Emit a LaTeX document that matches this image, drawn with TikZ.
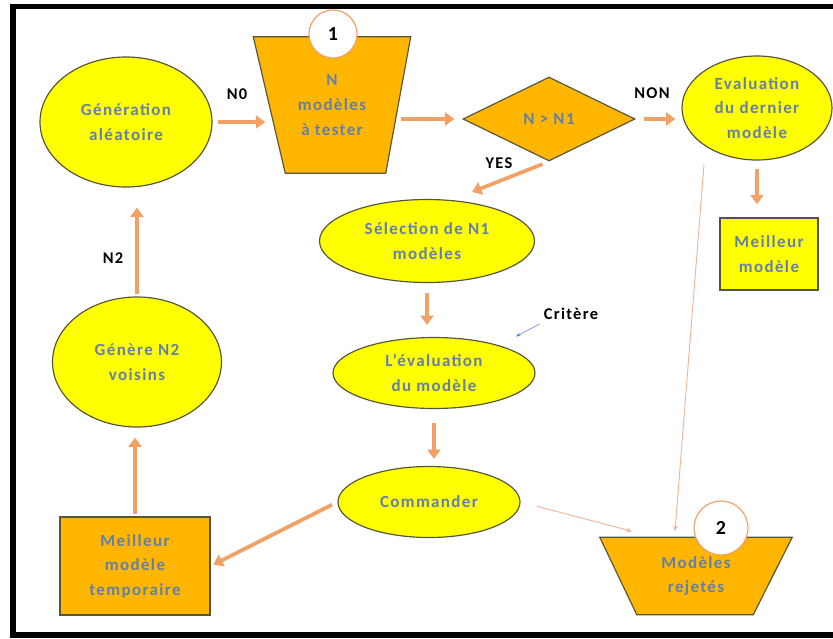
\documentclass[tikz,border=0pt]{standalone}
\usepackage{fontspec}
\newfontfamily\diagfont{Carlito}[LetterSpace=8]
\usepackage{tikz}
\usetikzlibrary{shapes.geometric, positioning, calc, arrows.meta, backgrounds}
\definecolor{jaune}{RGB}{255,255,0}
\definecolor{orangebox}{RGB}{255,182,0}
\definecolor{fleche}{RGB}{242,160,100}
\definecolor{filet}{RGB}{240,180,150}
\definecolor{texte}{RGB}{100,128,170}
\definecolor{bord}{RGB}{85,85,60}
\definecolor{bleu}{RGB}{100,130,220}
\newcommand{\pxu}{0.03cm}

\begin{document}
\begin{tikzpicture}[x=0.03cm, y=-0.03cm,
  txt/.style={font=\diagfont\bfseries\fontsize{14.5}{21}\selectfont, text=texte, align=center},
  bulle/.style={txt, ellipse, draw=bord, line width=1pt, fill=jaune, inner sep=0pt},
  boite/.style={txt, rectangle, draw=bord, line width=1.2pt, inner sep=0pt},
  fondtrap/.style={draw=bord, line width=1pt, fill=orangebox, line join=miter},
  pastille/.style={circle, draw=fleche, line width=1pt, fill=white, inner sep=0pt, minimum size=48*\pxu, font=\diagfont\bfseries\fontsize{17}{17}\selectfont},
  etiq/.style={font=\diagfont\bfseries\fontsize{14}{14}\selectfont, text=black},
  fl/.style={draw=fleche, line width=3.2pt, -{Triangle[width=11pt,length=8pt]}},
  fin/.style={draw=filet, line width=0.8pt, -{Stealth[length=5pt,width=4pt]}}]
 \useasboundingbox (0,0) rectangle (833,638);
 % cadre
 \draw[line width=4.8pt] (840,6.5) -- (13,6.5) -- (13,635) -- (840,635);

 % les formes
 \node (gen) [bulle, minimum width=172*\pxu, minimum height=130*\pxu] at (126,122) {Génération\\aléatoire};
 \node (lot) [txt, minimum width=157*\pxu, minimum height=136*\pxu] at (332,105) {N\\modèles\\à tester};
 \node (dia) [txt, diamond, draw=bord, line width=1pt, fill=orangebox, inner sep=0pt, minimum width=172*\pxu, minimum height=84*\pxu] at (549,119) {N > N1};
 \node (evalL) [bulle, minimum width=150*\pxu, minimum height=104*\pxu] at (757,108) {Evaluation\\du dernier\\modèle};
 \node (best) [boite, fill=jaune, minimum width=98*\pxu, minimum height=72*\pxu] at (769,254) {Meilleur\\modèle};
 \node (sel) [bulle, minimum width=215*\pxu, minimum height=83*\pxu] at (427,241) {Sélection de N1\\modèles};
 \node (evalM) [bulle, minimum width=202*\pxu, minimum height=71*\pxu] at (434,373) {L’évaluation\\du modèle};
 \node (cmd) [bulle, minimum width=182*\pxu, minimum height=71*\pxu] at (429,502) {Commander};
 \node (tmp) [boite, fill=orangebox, minimum width=150*\pxu, minimum height=98*\pxu] at (135,566) {Meilleur\\modèle\\temporaire};
 \node (vois) [bulle, minimum width=169*\pxu, minimum height=130*\pxu] at (137,362) {Génère N2\\voisins};
 \node (rej) [txt, minimum width=192*\pxu, minimum height=77*\pxu] at (696,576) {Modèles\\rejetés};
 \begin{scope}[on background layer]
  \draw[fondtrap] (lot.north west) -- (lot.north east) -- ($(lot.south east)+(-25,0)$) -- ($(lot.south west)+(32,0)$) -- cycle;
  \draw[fondtrap] (rej.north west) -- (rej.north east) -- ($(rej.south east)+(-39,0)$) -- ($(rej.south west)+(37,0)$) -- cycle;
 \end{scope}
 \node (b1) [pastille] at (333,34) {1};
 \node (b2) [pastille, minimum size=54*\pxu] at (721,528) {2};

 % etiquettes
 \node (n0) [etiq] at (237,94) {N0};
 \node (non) [etiq] at (652,93) {NON};
 \node (yes) [etiq] at (499,163) {YES};
 \node (n2) [etiq] at (113,258) {N2};
 \node (crit) [etiq] at (571,314) {Critère};

 % fleches
 \draw[fl, shorten <=5*\pxu] (gen.east) -- ($(gen.east -| lot.west)+(12,0)$);
 \draw[fl, shorten >=8*\pxu] ($(dia.west -| lot.east)+(-10,0)$) -- (dia.west);
 \draw[fl, shorten <=8*\pxu, shorten >=6*\pxu] (dia.east) -- (dia.east -| evalL.west);
 \draw[fl, shorten <=8*\pxu, shorten >=13*\pxu] (evalL.south) -- (evalL.south |- best.north);
 \draw[fl, shorten <=7*\pxu] (dia.south) -- ($(sel.north)+(45,-7)$);
 \draw[fl, shorten <=10*\pxu, shorten >=12*\pxu] (sel.south) -- (sel.south |- evalM.north);
 \draw[fl, shorten <=14*\pxu, shorten >=7*\pxu] (evalM.south) -- (evalM.south |- cmd.north);
 \draw[fl, shorten <=6*\pxu, shorten >=3*\pxu] (cmd.west) -- (tmp.east);
 \draw[fl, shorten <=2*\pxu, shorten >=10*\pxu] (tmp.north) -- (tmp.north |- vois.south);
 \draw[fl, shorten <=2*\pxu, shorten >=20*\pxu] (vois.north) -- (vois.north |- gen.south);
 \draw[fin] ($(evalL.south)+(-53,4)$) -- ($(rej.north)+(-21,-6)$);
 \draw[fin, shorten <=17*\pxu] (cmd.east) -- ($(rej.north)+(-64,-6)$);
 \draw[draw=bleu, line width=0.5pt, -{Stealth[length=4pt,width=3pt]}] (crit.south west) -- ($(evalM.north east)+(10,-11)$);
\end{tikzpicture}
\end{document}
